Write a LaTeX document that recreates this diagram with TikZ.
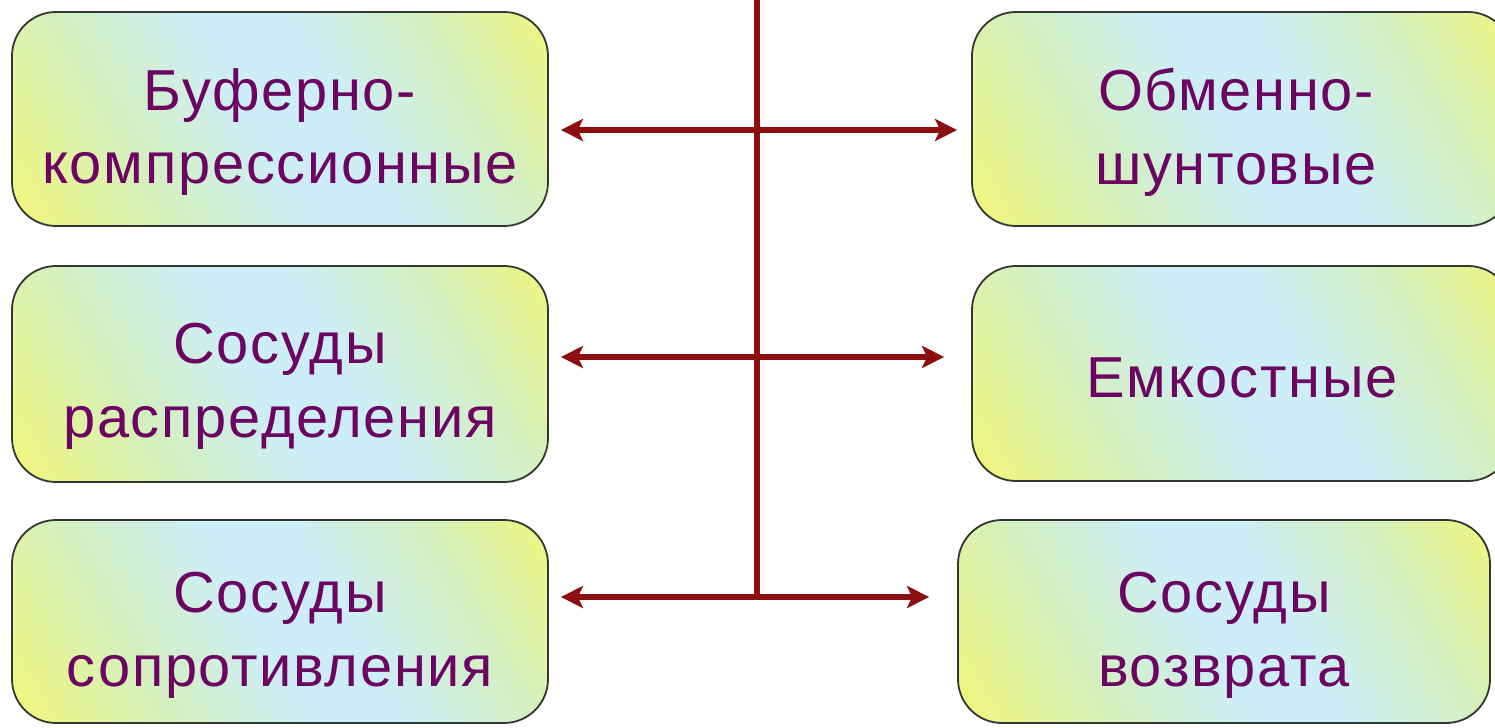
\documentclass[tikz,border=0pt]{standalone}
\usepackage{fontspec}
\setmainfont{Liberation Sans}[LetterSpace=3]
\usetikzlibrary{arrows.meta}
\definecolor{byel}{RGB}{242,246,122}
\definecolor{bgrn}{RGB}{212,240,192}
\definecolor{bcya}{RGB}{205,238,247}
\definecolor{bord}{RGB}{50,55,50}
\definecolor{arrred}{RGB}{140,14,14}
\definecolor{txtpur}{RGB}{108,5,98}
\pgfdeclarehorizontalshading{boxshade}{100bp}{color(0bp)=(byel); color(16bp)=(byel); color(33bp)=(bgrn); color(47bp)=(bcya); color(57bp)=(bcya); color(71bp)=(bgrn); color(85bp)=(byel); color(100bp)=(byel)}
\tikzset{
  vbox/.style={draw=bord, line width=1.8bp, rounded corners=44bp, shading=boxshade, shading angle=30, inner sep=0pt},
  lbl/.style={text=txtpur, align=center, inner sep=0pt, font=\fontsize{58}{74}\selectfont},
  conn/.style={draw=arrred, line width=6bp},
  arr/.style={conn, -{Stealth[length=22bp, width=22bp, inset=5bp]}}
}
\begin{document}
\begin{tikzpicture}[x=1bp, y=-1bp]
\clip (0,0) rectangle (1495,728);
\fill[white] (0,0) rectangle (1495,728);
% left column
\node[vbox, minimum width=536bp, minimum height=214bp] (lt) at (280,119) {};
\node[vbox, minimum width=536bp, minimum height=216bp] (lm) at (280,374) {};
\node[vbox, minimum width=536bp, minimum height=203bp] (lb) at (280,621.5) {};
% right column
\node[vbox, minimum width=540bp, minimum height=214bp] (rt) at (1242,119) {};
\node[vbox, minimum width=540bp, minimum height=215bp] (rm) at (1242,373.5) {};
\node[vbox, minimum width=532bp, minimum height=203bp] (rb) at (1224,621.5) {};
% labels
\node[lbl] (ltl) at ([yshift=-13bp]lt.center) {Буферно-\\компрессионные};
\node[lbl] (lml) at ([yshift=-12bp]lm.center) {Сосуды\\распределения};
\node[lbl] (lbl) at ([yshift=-14bp]lb.center) {Сосуды\\сопротивления};
\node[lbl] (rtl) at ([xshift=-6bp,yshift=-13bp]rt.center) {Обменно-\\шунтовые};
\node[lbl] (rml) at ([yshift=-4bp]rm.center) {Емкостные};
\node[lbl] (rbl) at ([yshift=-14bp]rb.center) {Сосуды\\возврата};
% connectors
\coordinate (top) at (757,-5);
\coordinate (j1) at (757,130);
\coordinate (j2) at (757,357);
\coordinate (j3) at (757,597);
\draw[conn, line cap=butt] (top) -- ([yshift=-3bp]j3);
\draw[arr, shorten >=12bp] (j1) -- (j1 -| lt.east);
\draw[arr, shorten >=14bp] (j1) -- (j1 -| rt.west);
\draw[arr, shorten >=12bp] (j2) -- (j2 -| lm.east);
\draw[arr, shorten >=27bp] (j2) -- (j2 -| rm.west);
\draw[arr, shorten >=12bp] (j3) -- (j3 -| lb.east);
\draw[arr, shorten >=28bp] (j3) -- (j3 -| rb.west);
\end{tikzpicture}
\end{document}
